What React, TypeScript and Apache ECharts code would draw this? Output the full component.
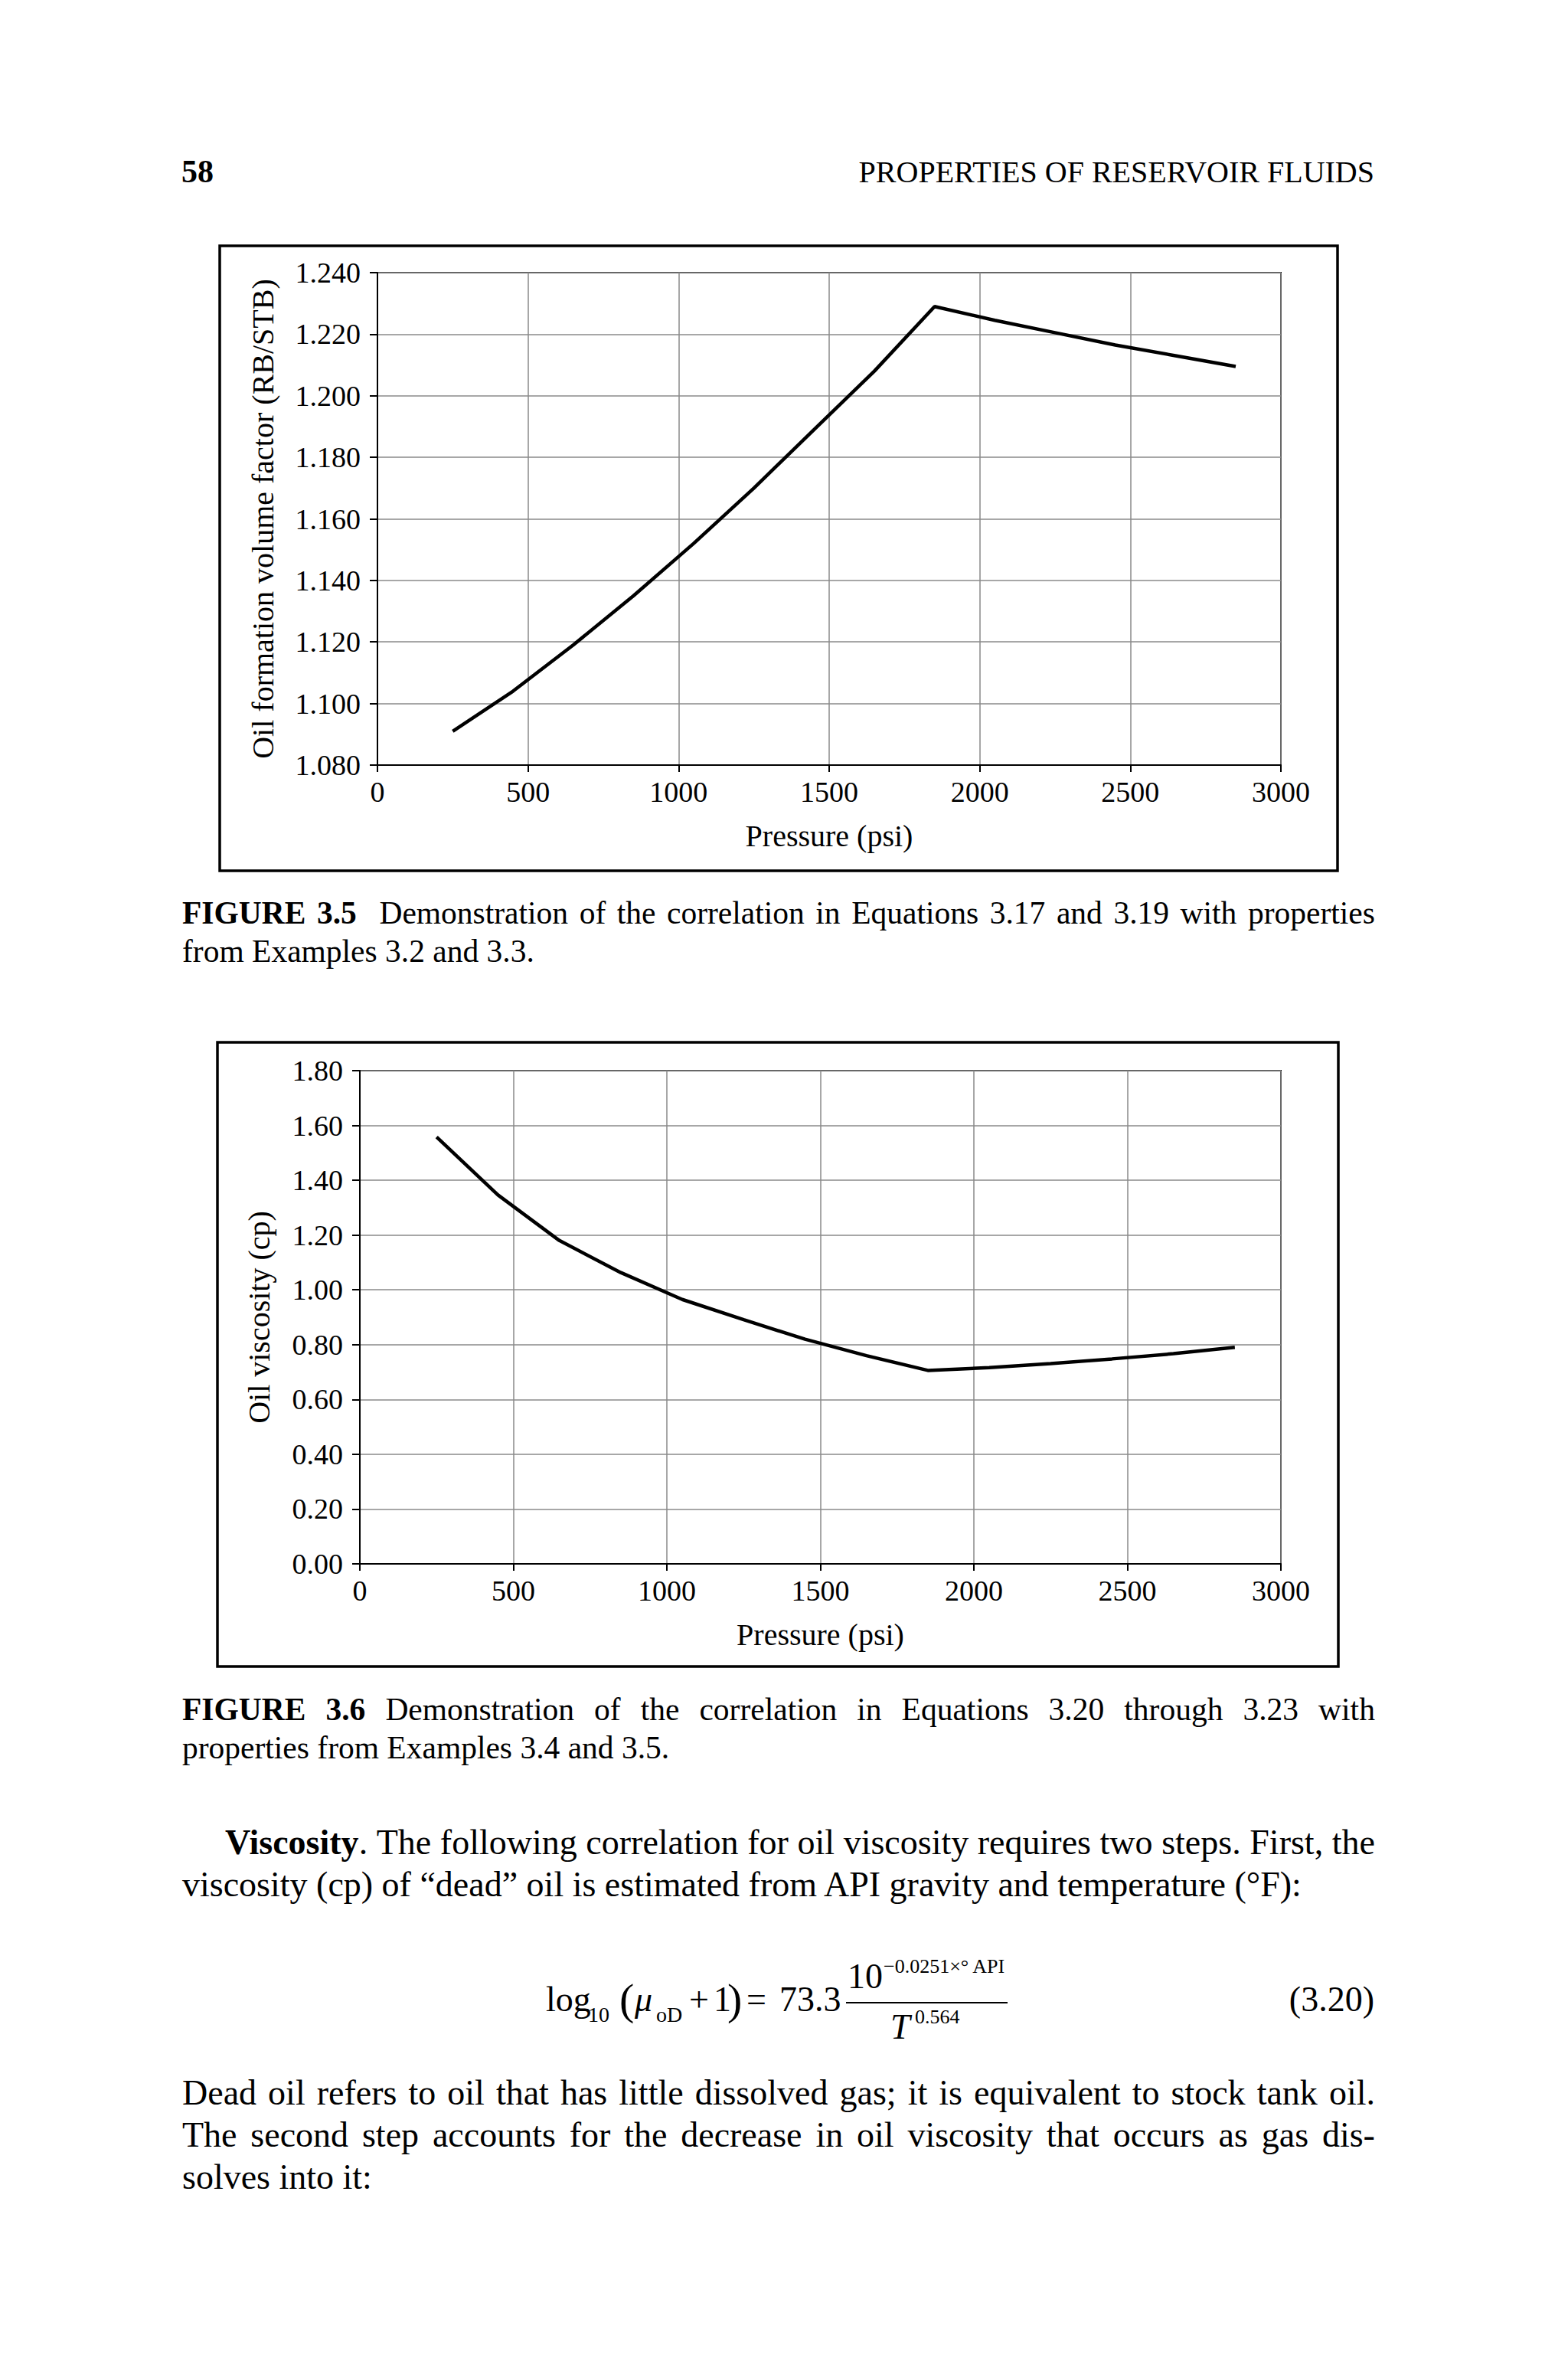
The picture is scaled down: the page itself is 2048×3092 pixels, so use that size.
import React, { useEffect, useRef } from "react";
import * as echarts from "echarts";

// ---------------- data ----------------
const pressurePsi = [250, 450, 650, 850, 1050, 1250, 1450, 1650, 1850, 2050, 2250, 2450, 2650, 2850];
const oilFormationVolumeFactor = [1.091, 1.104, 1.119, 1.135, 1.152, 1.17, 1.189, 1.208, 1.229, 1.2245, 1.2205, 1.2165, 1.213, 1.2095];
const oilViscosityCp = [1.558, 1.346, 1.18, 1.063, 0.965, 0.891, 0.82, 0.76, 0.706, 0.716, 0.731, 0.748, 0.767, 0.79];

const pressureAxis = { min: 0, max: 3000, step: 500 };
const fvfAxis = { min: 1.08, max: 1.24, step: 0.02, decimals: 3 };
const viscAxis = { min: 0, max: 1.8, step: 0.2, decimals: 2 };

const xAxisTitle = "Pressure (psi)";
const fvfTitle = "Oil formation volume factor (RB/STB)";
const viscTitle = "Oil viscosity (cp)";

const pageNumber = "58";
const runningHead = "PROPERTIES OF RESERVOIR FLUIDS";

const caption1Line1 = ["FIGURE", "3.5", "Demonstration", "of", "the", "correlation", "in", "Equations", "3.17", "and", "3.19", "with", "properties"];
const caption1Line2 = "from Examples 3.2 and 3.3.";
const caption2Line1 = ["FIGURE", "3.6", "Demonstration", "of", "the", "correlation", "in", "Equations", "3.20", "through", "3.23", "with"];
const caption2Line2 = "properties from Examples 3.4 and 3.5.";

const bodyLine1 = ["The", "following", "correlation", "for", "oil", "viscosity", "requires", "two", "steps.", "First,", "the"];
const bodyLine2 = "viscosity (cp) of \u201Cdead\u201D oil is estimated from API gravity and temperature (\u00B0F):";
const bodyLine3 = ["Dead", "oil", "refers", "to", "oil", "that", "has", "little", "dissolved", "gas;", "it", "is", "equivalent", "to", "stock", "tank", "oil."];
const bodyLine4 = ["The", "second", "step", "accounts", "for", "the", "decrease", "in", "oil", "viscosity", "that", "occurs", "as", "gas", "dis-"];
const bodyLine5 = "solves into it:";

// ---------------- layout helpers ----------------
const SERIF = "'Liberation Serif', 'Times New Roman', serif";
const BASE = 0.8375;

type TProps = { x: number; b: number; fs: number; bold?: boolean; italic?: boolean; right?: boolean; children: React.ReactNode };
const T = ({ x, b, fs, bold, italic, right, children }: TProps) => (
  <span
    style={{
      position: "absolute",
      top: b - BASE * fs,
      ...(right ? { right: 2048 - x } : { left: x }),
      fontSize: fs,
      lineHeight: `${fs}px`,
      fontWeight: bold ? "bold" : "normal",
      fontStyle: italic ? "italic" : "normal",
      whiteSpace: "nowrap",
      fontFamily: SERIF,
      color: "#000",
    }}
  >
    {children}
  </span>
);

type JProps = { x: number; w: number; b: number; fs: number; words: React.ReactNode[] };
const Justified = ({ x, w, b, fs, words }: JProps) => (
  <div
    style={{
      position: "absolute",
      left: x,
      width: w,
      top: b - BASE * fs,
      height: fs,
      display: "flex",
      justifyContent: "space-between",
      alignItems: "baseline",
      fontSize: fs,
      lineHeight: `${fs}px`,
      fontFamily: SERIF,
      color: "#000",
      whiteSpace: "nowrap",
    }}
  >
    {words.map((wd, i) => (
      <span key={i} style={{ flexShrink: 0 }}>
        {wd}
      </span>
    ))}
  </div>
);

function axisTicks(a: { min: number; max: number; step: number }) {
  return { min: a.min, max: a.max, interval: a.step };
}

export default function App() {
  const ref = useRef<HTMLDivElement>(null);

  useEffect(() => {
    if (!ref.current) return;
    const chart = echarts.init(ref.current, undefined, { renderer: "svg" });

    const labelStyle = { fontFamily: SERIF, fontSize: 38, color: "#000" };
    const nameStyle = { fontFamily: SERIF, fontSize: 40, color: "#000" };
    const axisLine = { show: true, lineStyle: { color: "#000", width: 2 } };
    const splitLine = { show: true, lineStyle: { color: "#8a8a8a", width: 1.5 } };

    const xAxis = (gi: number) => ({
      type: "value",
      gridIndex: gi,
      ...axisTicks(pressureAxis),
      name: xAxisTitle,
      nameLocation: "middle",
      nameGap: 72,
      nameTextStyle: nameStyle,
      axisLine,
      axisTick: { show: true, inside: false, length: 9, lineStyle: { color: "#000", width: 2 } },
      axisLabel: { ...labelStyle, margin: 16, formatter: (v: number) => String(v) },
      splitLine,
    });

    const yAxis = (gi: number, a: typeof fvfAxis, name: string, gap: number) => ({
      type: "value",
      gridIndex: gi,
      ...axisTicks(a),
      name,
      nameLocation: "middle",
      nameGap: gap,
      nameTextStyle: nameStyle,
      axisLine,
      axisTick: { show: true, inside: false, length: 10, lineStyle: { color: "#000", width: 2 } },
      axisLabel: { ...labelStyle, margin: 22, formatter: (v: number) => v.toFixed(a.decimals) },
      splitLine,
    });

    const option = {
      animation: false,
      backgroundColor: "#fff",
      grid: [
        { left: 493, top: 356, width: 1180, height: 643, show: true, borderColor: "#000", borderWidth: 2, backgroundColor: "transparent" },
        { left: 470, top: 1398, width: 1203, height: 644, show: true, borderColor: "#000", borderWidth: 2, backgroundColor: "transparent" },
      ],
      xAxis: [xAxis(0), xAxis(1)],
      yAxis: [yAxis(0, fvfAxis, fvfTitle, 130), yAxis(1, viscAxis, viscTitle, 112)],
      series: [
        {
          type: "line",
          xAxisIndex: 0,
          yAxisIndex: 0,
          showSymbol: false,
          lineStyle: { color: "#000", width: 4.5 },
          data: pressurePsi.map((p, i) => [p, oilFormationVolumeFactor[i]]),
        },
        {
          type: "line",
          xAxisIndex: 1,
          yAxisIndex: 1,
          showSymbol: false,
          lineStyle: { color: "#000", width: 4.5 },
          data: pressurePsi.map((p, i) => [p, oilViscosityCp[i]]),
        },
      ],
      graphic: [
        { type: "rect", shape: { x: 287, y: 321, width: 1460, height: 816 }, style: { fill: "none", stroke: "#000", lineWidth: 3.5 } },
        { type: "rect", shape: { x: 284, y: 1361, width: 1464, height: 815 }, style: { fill: "none", stroke: "#000", lineWidth: 3.5 } },
      ],
    };

    chart.setOption(option as any);
    return () => chart.dispose();
  }, []);

  const CAP = 41.5;
  const BODY = 46;
  const EQ = 46;
  const SUB = 28;
  const SUP = 26;

  return (
    <div style={{ position: "absolute", left: 0, top: 0, width: 2048, height: 3092, background: "#fff", overflow: "hidden" }}>
      <div ref={ref} style={{ position: "absolute", left: 0, top: 0, width: 2048, height: 3092 }} />

      {/* running head */}
      <T x={237} b={238} fs={42} bold>{pageNumber}</T>
      <T x={1795} b={238} fs={40} right>{runningHead}</T>

      {/* caption 3.5 */}
      <Justified
        x={238}
        w={1558}
        b={1207}
        fs={CAP}
        words={caption1Line1.map((w, i) =>
          i < 2 ? (
            <b key={i} style={i === 1 ? { marginRight: 15 } : undefined}>{w}</b>
          ) : (
            w
          )
        )}
      />
      <T x={238} b={1257} fs={CAP}>{caption1Line2}</T>

      {/* caption 3.6 */}
      <Justified
        x={238}
        w={1558}
        b={2247}
        fs={CAP}
        words={caption2Line1.map((w, i) => (i < 2 ? <b key={i}>{w}</b> : w))}
      />
      <T x={238} b={2297} fs={CAP}>{caption2Line2}</T>

      {/* body */}
      <Justified
        x={294}
        w={1502}
        b={2422}
        fs={BODY}
        words={[
          <>
            <b>Viscosity</b>.
          </>,
          ...bodyLine1,
        ]}
      />
      <T x={238} b={2477} fs={BODY}>{bodyLine2}</T>

      {/* equation 3.20 */}
      <T x={713} b={2627} fs={EQ}>log</T>
      <T x={768} b={2640} fs={SUB}>10</T>
      <T x={809} b={2631} fs={58}>(</T>
      <T x={829} b={2627} fs={EQ} italic>{"\u03BC"}</T>
      <T x={857} b={2640} fs={SUB}>oD</T>
      <T x={900} b={2627} fs={EQ}>+</T>
      <T x={932} b={2627} fs={EQ}>1</T>
      <T x={950} b={2631} fs={58}>)</T>
      <T x={975} b={2627} fs={EQ}>=</T>
      <T x={1018} b={2627} fs={EQ}>73.3</T>
      <T x={1107} b={2597} fs={EQ}>10</T>
      <T x={1154} b={2577} fs={SUP}>{"\u22120.0251\u00D7\u00B0 API"}</T>
      <div style={{ position: "absolute", left: 1105, top: 2614, width: 211, height: 2, background: "#000" }} />
      <T x={1163} b={2663} fs={EQ} italic>T</T>
      <T x={1195} b={2643} fs={SUP}>0.564</T>
      <T x={1795} b={2627} fs={EQ} right>(3.20)</T>

      <Justified x={238} w={1558} b={2749} fs={BODY} words={bodyLine3} />
      <Justified x={238} w={1558} b={2804} fs={BODY} words={bodyLine4} />
      <T x={238} b={2859} fs={BODY}>{bodyLine5}</T>
    </div>
  );
}
